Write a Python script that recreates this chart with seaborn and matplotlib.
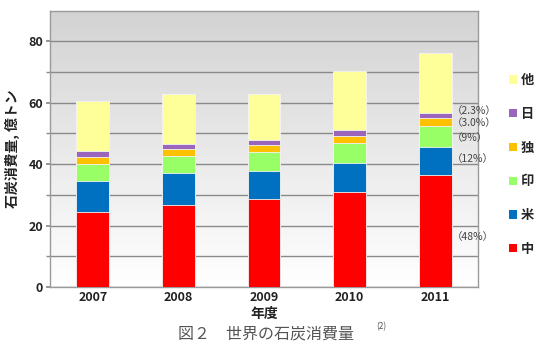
import numpy as np
import pandas as pd
import matplotlib
matplotlib.use("Agg")
import matplotlib.pyplot as plt
from matplotlib.patches import Patch
from matplotlib.colors import LinearSegmentedColormap
import seaborn as sns

# data (億トン)
years = ["2007", "2008", "2009", "2010", "2011"]
china = [24.4, 26.8, 28.7, 31.0, 36.4]
usa = [10.2, 10.2, 9.1, 9.4, 9.2]
india = [5.4, 5.8, 6.2, 6.5, 6.8]
germany = [2.4, 2.1, 2.3, 2.3, 2.5]
japan = [2.0, 1.8, 1.6, 1.8, 1.6]
others = [16.0, 16.0, 14.9, 19.2, 19.7]

series_names = ["中", "米", "印", "独", "日", "他"]
colors = ["#ff0000", "#0070c0", "#99ff66", "#ffc000", "#9966bb", "#ffff99"]

share_labels = ["（48%）", "（12%）", "（9%）", "（3.0%）", "（2.3%）"]
share_label_y = [16.3, 41.6, 48.5, 53.3, 57.3]

sns.set_theme(style="white")
plt.rcParams['font.family'] = ['Noto Sans CJK JP', 'DejaVu Sans']

df = pd.DataFrame({"year": years, "中": china, "米": usa, "印": india,
                   "独": germany, "日": japan, "他": others})
cum = df[series_names].cumsum(axis=1)

fig = plt.figure(figsize=(5.4, 3.42), dpi=100)
ax = fig.add_axes([50 / 540, 1 - 287 / 342, 428 / 540, 276.5 / 342])

# gradient background
grad = np.linspace(0, 1, 256).reshape(-1, 1)
cmap = LinearSegmentedColormap.from_list("bg", ["#ffffff", "#d3d3d3"])
ax.imshow(grad, extent=[-0.5, 4.5, 0, 90], origin="lower", aspect="auto",
          cmap=cmap, zorder=0)

# stacked bars drawn from the total downwards
for name, col in reversed(list(zip(series_names, colors))):
    sns.barplot(x=df["year"], y=cum[name], color=col, width=0.385,
                saturation=1, ax=ax, zorder=3, edgecolor="#f4f4f4",
                linewidth=0.6)

ax.set_xlim(-0.5, 4.5)
ax.set_ylim(0, 90)
ax.set_yticks([0, 20, 40, 60, 80])
ax.set_yticks([10, 30, 50, 70], minor=True)
ax.grid(True, axis="y", which="both", color="#8a8a8a", linewidth=1.0, zorder=1)
ax.set_axisbelow(True)
ax.set_xticks(np.arange(0.5, 4.5, 1), minor=True)
ax.tick_params(axis="x", which="minor", length=2, color="#999999")
ax.tick_params(axis="x", which="major", length=0, labelsize=9, pad=3)
ax.tick_params(axis="y", which="both", length=3, color="#8a8a8a", labelsize=9, pad=2,
               left=True)
for lab in ax.get_xticklabels() + ax.get_yticklabels():
    lab.set_fontweight("bold")
    lab.set_color("#222222")
for s in ax.spines.values():
    s.set_color("#9a9a9a")
    s.set_linewidth(1.0)

ax.set_xlabel("年度", fontsize=10, fontweight="bold", labelpad=2, color="#222222")
ax.set_ylabel("石炭消費量, 億トン", fontsize=10, fontweight="bold", labelpad=6,
              color="#222222")

for lab, yv in zip(share_labels, share_label_y):
    ax.text(4.19, yv, lab, fontsize=7.5, va="center", ha="left", color="#444444",
            clip_on=False, zorder=5)

handles = [Patch(facecolor=c, edgecolor="none") for c in colors]
leg = fig.legend(handles[::-1], series_names[::-1], loc="upper left",
                 bbox_to_anchor=(509 / 540, 1 - 73 / 342), frameon=False,
                 fontsize=9.5, handlelength=0.6, handleheight=0.6,
                 handletextpad=0.3, labelspacing=1.5, borderaxespad=0,
                 borderpad=0)
for t in leg.get_texts():
    t.set_fontweight("bold")

fig.text(178 / 540, 1 - 334 / 342, "図２　世界の石炭消費量", fontsize=11.5,
         ha="left", va="center", color="#555555")
fig.text(376 / 540, 1 - 327 / 342, "(2)", fontsize=6, ha="left", va="center",
         color="#555555")

fig.savefig("out.png", dpi=100)
